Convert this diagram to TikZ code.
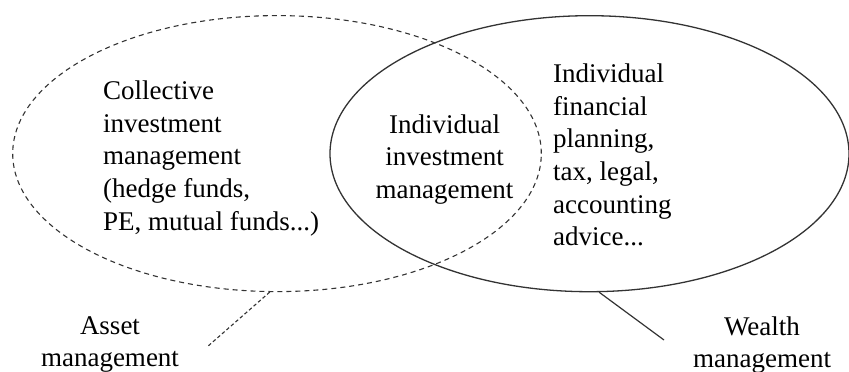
\documentclass[tikz,border=0pt]{standalone}
\usepackage{fontspec}
\setmainfont{Liberation Serif}
\usetikzlibrary{shapes.geometric}

\begin{document}
\begin{tikzpicture}[x=1pt, y=-1pt,
        txt/.style = {inner sep=0pt, font=\fontsize{27}{32.7}\selectfont},
        circ/.style = {ellipse, draw=black!80, inner sep=0pt}]
    \useasboundingbox (0,0) rectangle (849,372);
    % the two circles
    \node[circ, line width=1.1pt, dash pattern=on 5pt off 4pt,
          minimum width=528.6pt, minimum height=276pt] (am) at (277,153.6) {};
    \node[circ, line width=1.3pt,
          minimum width=519pt, minimum height=276pt] (wm) at (589.5,153.7) {};
    % texts inside
    \node[txt, anchor=west, align=left] (collective) at (103,158.3)
        {Collective\\investment\\management\\(hedge funds,\\PE, mutual funds...)};
    \node[txt, align=center] (individual) at (444.5,159.3)
        {Individual\\investment\\management};
    \node[txt, anchor=west, align=left] (advice) at (553,154.9)
        {Individual\\financial\\planning,\\tax, legal,\\accounting\\advice...};
    % labels below
    \node[txt, align=center] (asset) at (110,344.5) {Asset\\management};
    \node[txt, align=center] (wealth) at (762,345) {Wealth\\management};
    \coordinate (amtip) at (207,347);
    \coordinate (wmtip) at (664,340);
    \draw[black!80, line width=1.1pt, dash pattern=on 3.5pt off 2.5pt] (am.-93.7) -- (amtip);
    \draw[black!80, line width=1.2pt] (wm.-86.9) -- (wmtip);
\end{tikzpicture}
\end{document}
